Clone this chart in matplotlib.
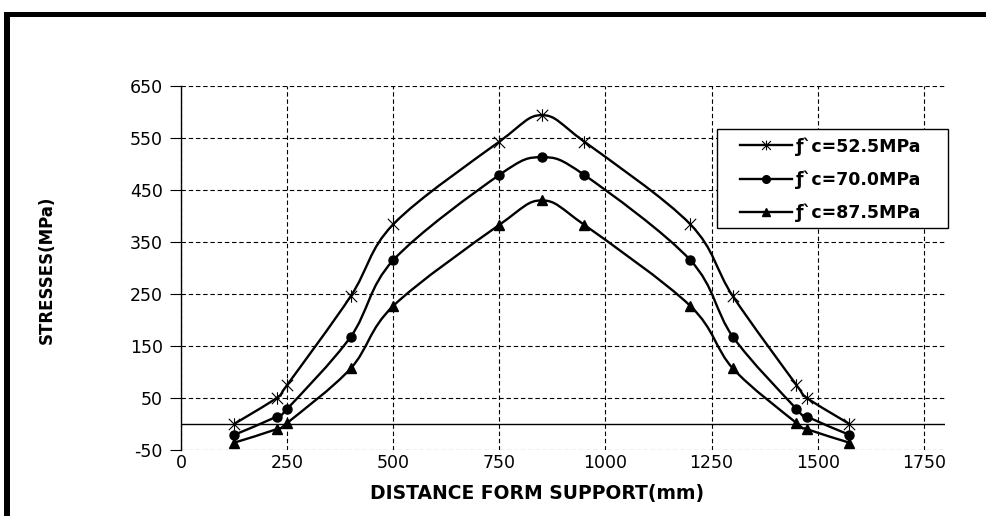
import matplotlib
matplotlib.use("Agg")
import matplotlib.pyplot as plt
import numpy as np
from matplotlib.path import Path
from matplotlib.patches import PathPatch, Rectangle
from matplotlib.lines import Line2D

# distance from support (mm)
distance = [125, 225, 250, 400, 500, 750, 850, 950, 1200, 1300, 1450, 1475, 1575]
# stresses (MPa) for each concrete strength
fc_525 = [0, 50, 75, 246, 384, 543, 594, 543, 384, 246, 75, 50, 0]
fc_700 = [-21, 14, 29, 168, 315, 479, 513, 479, 315, 168, 29, 14, -21]
fc_875 = [-36, -10, 2, 107, 227, 383, 430, 383, 227, 107, 2, -10, -36]
labels = ["ƒ`c=52.5MPa", "ƒ`c=70.0MPa", "ƒ`c=87.5MPa"]

x_ticks = [0, 250, 500, 750, 1000, 1250, 1500, 1750]
y_ticks = [-50, 50, 150, 250, 350, 450, 550, 650]

plt.rcParams['font.family'] = ['DejaVu Sans']
plt.rcParams['axes.unicode_minus'] = False

# asterisk marker like the spreadsheet "star": an x with a vertical bar
star = Path([(-1, -1), (1, 1), (-1, 1), (1, -1), (0, -1.1), (0, 1.1)],
            [Path.MOVETO, Path.LINETO, Path.MOVETO, Path.LINETO, Path.MOVETO, Path.LINETO])


def smooth_path(xs, ys):
    # Catmull-Rom style bezier through the points (spreadsheet "smoothed line")
    pts = np.column_stack([xs, ys]).astype(float)
    n = len(pts)
    verts = [pts[0]]
    codes = [Path.MOVETO]
    for i in range(n - 1):
        p0 = pts[i - 1] if i > 0 else pts[i]
        p1 = pts[i]
        p2 = pts[i + 1]
        p3 = pts[i + 2] if i + 2 < n else pts[i + 1]
        verts += [p1 + (p2 - p0) / 6, p2 - (p3 - p1) / 6, p2]
        codes += [Path.CURVE4] * 3
    return Path(verts, codes)


fig = plt.figure(figsize=(9.87, 5.16), dpi=100)
ax = fig.add_axes([181 / 987, 1 - 450 / 516, (945 - 181) / 987, (450 - 86) / 516])

series = [fc_525, fc_700, fc_875]
markers = [dict(marker=star, ms=9, mew=0.8, mfc='none'),
           dict(marker='o', ms=6.5),
           dict(marker='^', ms=6.5)]
leg_markers = [dict(marker=star, ms=7, mew=0.8, mfc='none'),
               dict(marker='o', ms=5.5),
               dict(marker='^', ms=5.5)]
handles = []
for vals, mk, lmk, lab in zip(series, markers, leg_markers, labels):
    ax.add_patch(PathPatch(smooth_path(distance, vals), fill=False, ec='black', lw=1.7, zorder=3))
    ax.plot(distance, vals, ls='none', color='black', mec='black', zorder=4, **mk)
    handles.append(Line2D([], [], color='black', lw=1.7, mec='black', label=lab, **lmk))

ax.set_xlim(0, 1800)
ax.set_ylim(-50, 650)
ax.set_xticks(x_ticks)
ax.set_yticks(y_ticks)
ax.grid(True, color='black', lw=0.8, ls=(0, (4, 2.5)))
ax.axhline(0, color='black', lw=1.0, zorder=2)

for side in ['top', 'right', 'bottom']:
    ax.spines[side].set_visible(False)
ax.spines['left'].set_linewidth(1.0)
ax.tick_params(axis='x', length=0, pad=3, labelsize=12.5)
ax.tick_params(axis='y', length=8, width=0.8, pad=5, labelsize=12.5)

fig.text(537 / 987, 1 - 493 / 516, "DISTANCE FORM SUPPORT(mm)", ha='center', va='center',
         fontsize=13.5, fontweight='bold')
fig.text(47 / 987, 1 - 270 / 516, "STRESSES(MPa)", ha='center', va='center',
         rotation=90, fontsize=12, fontweight='bold')

# legend box drawn separately so its padding matches the original
fig.add_artist(Rectangle((717 / 987, 1 - 228 / 516), 231 / 987, 99 / 516, transform=fig.transFigure,
                         facecolor='white', edgecolor='black', lw=1.0, zorder=5))
leg = ax.legend(handles=handles, loc='upper left', bbox_to_anchor=(740 / 987, 1 - 137 / 516),
                bbox_transform=fig.transFigure, frameon=False,
                prop=dict(size=12.5, weight='bold'), handlelength=3.0, labelspacing=0.85,
                borderpad=0, borderaxespad=0, handletextpad=0.25)
leg.remove()
leg.set_zorder(6)
fig.add_artist(leg)

# heavy frame along the top and left edges of the picture
fig.add_artist(Rectangle((4 / 987, 1 - 17 / 516), 983 / 987, 5 / 516, transform=fig.transFigure,
                         color='black', lw=0))
fig.add_artist(Rectangle((4 / 987, 0), 6 / 987, 1 - 12 / 516, transform=fig.transFigure,
                         color='black', lw=0))

fig.savefig("out.png", dpi=100)
